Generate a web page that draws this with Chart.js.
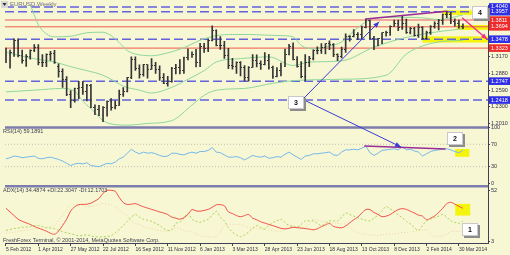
<!DOCTYPE html>
<html><head><meta charset="utf-8">
<script src="https://cdn.jsdelivr.net/npm/chart.js@4/dist/chart.umd.min.js"></script>
<style>html,body{margin:0;padding:0;background:#f7f7d3;overflow:hidden}canvas{display:block}</style>
</head><body>
<canvas id="c" width="510" height="255"></canvas>
<script>
// ---------- DATA ----------
const xTickWeeks = [0,8,16,24,32,40,48,56,64,72,80,88,96,104,112];
const xTickLabels = ['5 Feb 2012','1 Apr 2012','27 May 2012','22 Jul 2012','16 Sep 2012','11 Nov 2012','6 Jan 2013','3 Mar 2013','28 Apr 2013','23 Jun 2013','18 Aug 2013','13 Oct 2013','8 Dec 2013','2 Feb 2014','30 Mar 2014'];

const opens = [1.3140,1.3195,1.3245,1.3450,1.3200,1.3115,1.3175,1.3275,1.3340,1.3075,
1.3080,1.3215,1.3235,1.3000,1.2915,1.2780,1.2515,1.2415,1.2625,1.2640,
1.2570,1.2665,1.2290,1.2245,1.2155,1.2290,1.2385,1.2290,1.2330,1.2510,
1.2575,1.2815,1.3125,1.2975,1.2860,1.3035,1.2955,1.3020,1.2945,1.2815,
1.2710,1.2740,1.2975,1.2985,1.2925,1.3160,1.3220,1.3215,1.3065,1.3345,
1.3315,1.3460,1.3635,1.3365,1.3360,1.3190,1.3020,1.3005,1.3075,1.2985,
1.2815,1.2990,1.3110,1.3050,1.3030,1.3115,1.2985,1.2835,1.2935,1.2995,
1.3220,1.3345,1.3120,1.3010,1.2830,1.3065,1.3140,1.3280,1.3285,1.3340,
1.3395,1.3380,1.3220,1.3180,1.3295,1.3525,1.3525,1.3555,1.3555,1.3685,
1.3800,1.3485,1.3365,1.3495,1.3590,1.3590,1.3705,1.3745,1.3675,1.3745,
1.3590,1.3665,1.3540,1.3675,1.3485,1.3600,1.3705,1.3745,1.3800,1.3910,
1.3915,1.3790,1.3750,1.3705];
const highs = [1.3322,1.3290,1.3486,1.3486,1.3290,1.3210,1.3295,1.3385,1.3385,1.3210,
1.3225,1.3265,1.3285,1.3050,1.2960,1.2825,1.2585,1.2625,1.2745,1.2745,
1.2690,1.2690,1.2335,1.2325,1.2305,1.2405,1.2445,1.2405,1.2590,1.2635,
1.2815,1.3170,1.3172,1.3030,1.3040,1.3035,1.3140,1.3075,1.3015,1.2880,
1.2830,1.2990,1.3040,1.3125,1.3165,1.3310,1.3260,1.3300,1.3405,1.3405,
1.3480,1.3710,1.3640,1.3525,1.3440,1.3320,1.3145,1.3085,1.3090,1.3020,
1.3000,1.3210,1.3205,1.3100,1.3245,1.3215,1.3010,1.2985,1.3060,1.3305,
1.3390,1.3415,1.3175,1.3090,1.3210,1.3180,1.3295,1.3345,1.3400,1.3400,
1.3450,1.3400,1.3225,1.3340,1.3570,1.3540,1.3645,1.3595,1.3705,1.3832,
1.3810,1.3530,1.3495,1.3595,1.3620,1.3710,1.3810,1.3810,1.3893,1.3830,
1.3685,1.3685,1.3740,1.3700,1.3620,1.3715,1.3780,1.3825,1.3915,1.3967,
1.3945,1.3835,1.3810,1.3745];
const lows = [1.3070,1.2973,1.3180,1.3170,1.3060,1.3005,1.3130,1.3260,1.3030,1.3000,
1.3000,1.3110,1.3055,1.2815,1.2640,1.2495,1.2285,1.2380,1.2440,1.2515,
1.2405,1.2285,1.2165,1.2145,1.2042,1.2135,1.2240,1.2265,1.2325,1.2480,
1.2560,1.2790,1.2935,1.2800,1.2835,1.2800,1.2950,1.2880,1.2760,1.2705,
1.2660,1.2730,1.2875,1.2875,1.2880,1.3115,1.3160,1.2995,1.3000,1.3250,
1.3260,1.3450,1.3360,1.3300,1.3145,1.2965,1.2955,1.2880,1.2840,1.2750,
1.2745,1.2985,1.2995,1.2950,1.3030,1.2955,1.2795,1.2820,1.2840,1.3000,
1.3205,1.3115,1.2990,1.2805,1.2755,1.3000,1.3115,1.3220,1.3230,1.3220,
1.3295,1.3175,1.3105,1.3150,1.3250,1.3445,1.3520,1.3470,1.3485,1.3675,
1.3480,1.3295,1.3360,1.3400,1.3530,1.3545,1.3700,1.3625,1.3650,1.3580,
1.3570,1.3530,1.3510,1.3475,1.3475,1.3560,1.3670,1.3640,1.3735,1.3855,
1.3750,1.3705,1.3672,1.3660];
const closes = [1.3195,1.3245,1.3450,1.3200,1.3115,1.3175,1.3275,1.3340,1.3075,1.3080,
1.3215,1.3235,1.3080,1.2915,1.2780,1.2515,1.2415,1.2625,1.2640,1.2570,
1.2665,1.2290,1.2245,1.2155,1.2290,1.2385,1.2290,1.2330,1.2510,1.2575,
1.2815,1.3125,1.2975,1.2860,1.3035,1.2955,1.3020,1.2945,1.2815,1.2710,
1.2740,1.2975,1.2985,1.2925,1.3160,1.3220,1.3215,1.3065,1.3345,1.3315,
1.3460,1.3635,1.3365,1.3360,1.3190,1.3020,1.3005,1.3075,1.2985,1.2815,
1.2990,1.3110,1.3050,1.3030,1.3115,1.2985,1.2835,1.2935,1.2995,1.3220,
1.3345,1.3120,1.3010,1.2830,1.3065,1.3140,1.3280,1.3285,1.3340,1.3395,
1.3380,1.3220,1.3180,1.3295,1.3525,1.3525,1.3555,1.3555,1.3685,1.3800,
1.3485,1.3365,1.3495,1.3590,1.3590,1.3705,1.3745,1.3675,1.3745,1.3590,
1.3665,1.3540,1.3675,1.3485,1.3600,1.3705,1.3745,1.3800,1.3910,1.3915,
1.3790,1.3750,1.3705,1.3690];

const bbUpperWeeks = [0,4,6,8,10,12,16,20,24,26,28,30,32,36,40,44,48,52,56,60,64,68,71,73,76,80,83,86,90,94,98,103,107,113];
const bbUpper = [1.455,1.425,1.407,1.373,1.357,1.352,1.353,1.359,1.360,1.354,1.342,1.328,1.322,1.319,1.324,1.333,1.346,1.354,1.356,1.356,1.355,1.354,1.352,1.337,1.331,1.336,1.343,1.362,1.382,1.386,1.386,1.385,1.382,1.390];
const bbMidWeeks = [0,6,12,16,20,24,27,29,33,36,41,45,49,52,58,65,71,75,83,91,99,107,113];
const bbMid = [1.325,1.315,1.308,1.300,1.293,1.285,1.274,1.266,1.259,1.254,1.264,1.278,1.293,1.308,1.314,1.317,1.302,1.308,1.310,1.334,1.351,1.361,1.366];
const bbLowerWeeks = [0,7,14,17,19,22,24,27,30,35,41,46,49,51,55,59,66,72,83,94,99,103,107,113];
const bbLower = [1.256,1.259,1.262,1.257,1.240,1.220,1.206,1.199,1.198,1.201,1.206,1.233,1.250,1.257,1.261,1.262,1.271,1.276,1.278,1.285,1.322,1.336,1.343,1.346];

const levelValues = [1.4040,1.3957,1.3811,1.3694,1.3478,1.3323,1.2747,1.2418];
const levelKinds  = ['blue','blue','pink','red','blue','red','blue','blue'];
const priceTicks  = [1.4040,1.3957,1.3811,1.3694,1.3478,1.3323,1.3170,1.2880,1.2747,1.2590,1.2418,1.2300,1.2010];

const rsi = [44,46,49,48,46,47,48,49,45,44,
46,47,45,43,40,36,32,35,36,35,
37,32,31,30,33,36,35,38,44,47,
54,61,56,53,56,54,55,53,50,48,
49,54,54,52,51,54,56,54,57,57,
59,64,56,55,51,47,47,48,46,42,
46,50,48,47,49,45,46,48,47,52,
56,51,47,43,49,50,53,53,54,55,
56,51,50,56,60,60,61,60,63,66.5,
55,50,54,59,60,61,62,60,65,60,
61,58,56,49,53,57,59,60,61,62,
60,57,55,59.19];
const rsiLevels = [70,30];
const rsiTicks = [100,70,30,0];

const adx = [34.5,31,27.5,24,22,20.5,19,17,15.5,14,
12.5,10.5,9.5,12.5,18,24,32,36,38,38.3,
38.4,39.5,41.5,44,49,51.8,51.8,51,45,40,
38.2,38.5,39,37.5,36,34.7,33.5,32.3,31,30,
28.5,26,25,24,25.5,28.6,33.3,32,31.7,32.5,
33.5,35.5,37.9,38,37,31,29.5,27.5,26.4,27.5,
28.6,25,23.5,21.5,20.3,19,17.8,16.5,15.2,14.7,
15.3,16.2,15.8,15.4,15,14.5,13.8,14.8,16.9,18.5,
20,17,16.2,15.7,17.5,20.5,23.5,26,30,33.3,
33.3,30.5,28.6,26.4,27,28.4,31,33.3,34.2,33.5,
31.7,30,28,27,23.5,25,27.1,30.5,34.5,39,
40.3,38.5,36.5,34.49];
const plusDI = [13.2,14,15,15.5,16.2,16.5,17,17.8,18,17,
16,15.5,15,13.5,12,11,10,9,8,8.5,
9,8,7,7,7,7.5,8,11,14,18,
22,26,28.6,26,24,23,22,20,18,15,
13.2,14,20,21,25,30,24,22,21,22.5,
24,28,31.7,26,22.4,16,11.7,9,7.1,9,
11.7,15,17.8,16,14.7,18,20.9,22.5,24,21,
17.8,17,16.2,19,22.4,22.4,22.4,20,17.8,20,
22.4,22.4,22.4,26,30,28.6,27,25.5,24,23,
22.4,25,28,32,36.3,34,31.7,28,25.5,22,
19.4,16,13.2,18,22.4,24,25.5,27,28.6,26,
22.4,21,20,22.3];
const minusDI = [10.4,11,11.5,12,13,13.5,14,14.5,15,15.5,
16,17,18,23,28,33,38,38.5,38,37,
36,36.5,37,38,39.4,38.5,38,36,33,30,
27,22,20,19,17,16,15,14,13,12.5,
12,14,16,15,13,12.5,12,10,8,7.5,
7,7,7,12,17.8,18.5,19,19,19,17.5,
16,15.5,14.7,14.5,14,13.5,13,12.5,12,15,
19.3,18,17,16.5,16,20,23.9,23,22,21.5,
20.9,20.5,20,19.6,19.3,16,13,11,10,9.5,
9,8.8,8.6,9,9.5,10,10,10.5,11,11.3,
11.7,12.5,13,13.5,14,10,7,7.5,8,10,
12,12.5,12.2,12.17];
const adxTicks = [52,3];

// drawn objects (anchored in data coordinates)
const trendMain = [[89,1.3832],[109,1.3967]];
const trendRsi  = [[88.6,66.8],[108.7,61.6]];
const zones = [
  {axis:'y',  x0:108,   y0:1.3980, y1:1.3903},
  {axis:'y',  x0:111.5, y0:1.3725, y1:1.3640},
  {axis:'y',  x0:103,   y0:1.3527, y1:1.3420},
  {axis:'yr', x0:111.1, x1:114.6, y0:61.6, y1:47.6},
  {axis:'ya', x0:111.1, x1:114.8, y0:38.8, y1:27.5}
];
const arrows = [
  {a:['y',73.7,1.2453], b:['y',92.3,1.3784], color:'#3a3ad6', w:1},
  {a:['y',73.7,1.2419], b:['yr',97.7,65.1], color:'#3a3ad6', w:1},
  {a:['y',112.8,1.3852], b:['y',119,1.3477], color:'#f0308c', w:1.5}
];
const noteBoxes = [
  {t:'4', axis:'y',  x:117.3, y:1.3938},
  {t:'3', axis:'y',  x:71.6,  y:1.2368},
  {t:'2', axis:'yr', x:111.1, y:79.9},
  {t:'1', axis:'ya', x:114.7, y:13.9}
];

// ---------- STYLE ----------
const BG = '#f7f7d3';
const FONT = "'Liberation Sans', Arial, sans-serif";
const AX = '#40405a';
const BAR = '#363636';
const X_MIN = -0.245, X_MAX = 119.2;
const LEVEL_STYLE = {
  blue:{color:'#6363dc', width:1.5, dash:[9,4], label:'#2f2fe8'},
  red: {color:'#ef5a4a', width:1,   dash:[],    label:'#ee2a2a'},
  pink:{color:'#f3a89c', width:2,   dash:[],    label:'#ee2a2a'}
};

function tickImg(left){
  const c = document.createElement('canvas'); c.width = 3; c.height = 1;
  const g = c.getContext('2d'); g.fillStyle = BAR; g.fillRect(left ? 0 : 2, 0, 1, 1);
  return c;
}
const openImg = tickImg(true), closeImg = tickImg(false);
const pts = (xs, ys) => ys.map((v,i) => ({x: xs ? xs[i] : i, y: v}));
const hline = v => [{x:X_MIN, y:v}, {x:X_MAX, y:v}];

const datasets = [];
levelValues.forEach((v,i) => {
  const s = LEVEL_STYLE[levelKinds[i]];
  datasets.push({type:'line', data:hline(v), yAxisID:'y', borderColor:s.color, borderWidth:s.width, borderDash:s.dash, pointRadius:0, order:60});
});
rsiLevels.forEach(v => datasets.push({type:'line', data:hline(v), yAxisID:'yr', borderColor:'#bdbdb0', borderWidth:1, borderDash:[1,2], pointRadius:0, order:60}));
const bandStyle = {type:'line', yAxisID:'y', borderColor:'#8fd79a', borderWidth:1, pointRadius:0, tension:0.4, cubicInterpolationMode:'monotone', order:50};
datasets.push({...bandStyle, data:pts(bbUpperWeeks, bbUpper)});
datasets.push({...bandStyle, data:pts(bbMidWeeks, bbMid)});
datasets.push({...bandStyle, data:pts(bbLowerWeeks, bbLower)});
datasets.push({type:'bar', data:highs.map((h,i)=>({x:i, y:[lows[i], h]})), yAxisID:'y', backgroundColor:BAR, barThickness:1, order:40});
datasets.push({type:'line', showLine:false, data:pts(null, opens), yAxisID:'y', pointStyle:openImg, pointRadius:2, order:39});
datasets.push({type:'line', showLine:false, data:pts(null, closes), yAxisID:'y', pointStyle:closeImg, pointRadius:2, order:39});
datasets.push({type:'line', data:pts(null, rsi), yAxisID:'yr', borderColor:'#74b8ea', borderWidth:1, pointRadius:0, order:30});
datasets.push({type:'line', data:pts(null, minusDI), yAxisID:'ya', borderColor:'#efd4a6', borderWidth:1, borderDash:[1,2], pointRadius:0, tension:0.3, order:32});
datasets.push({type:'line', data:pts(null, plusDI), yAxisID:'ya', borderColor:'#a9d25a', borderWidth:1, borderDash:[2,2], pointRadius:0, tension:0.3, order:31});
datasets.push({type:'line', data:pts(null, adx), yAxisID:'ya', borderColor:'#f2504a', borderWidth:1, pointRadius:0, tension:0.3, order:30});
datasets.push({type:'line', data:trendMain.map(p=>({x:p[0],y:p[1]})), yAxisID:'y', borderColor:'#9a2c96', borderWidth:1.5, pointRadius:0, order:10});
datasets.push({type:'line', data:trendRsi.map(p=>({x:p[0],y:p[1]})), yAxisID:'yr', borderColor:'#9a2c96', borderWidth:1.5, pointRadius:0, order:10});

function levelColor(v){ const i = levelValues.findIndex(l => Math.abs(l - v) < 1e-6); return i < 0 ? null : LEVEL_STYLE[levelKinds[i]].label; }
const tickFont = {size:5.5, family:FONT};
const xFont = {size:5, family:FONT};
function yAxis(extra){
  return Object.assign({type:'linear', position:'right', stack:'panes', offset:false,
    afterFit: s => { s.width = 22; },
    grid:{drawOnChartArea:false, tickLength:2, color:AX},
    border:{color:AX}}, extra);
}

function arrowHead(ctx, x1, y1, x2, y2, color){
  const a = Math.atan2(y2-y1, x2-x1), L = 6, W = 2.5;
  ctx.fillStyle = color; ctx.beginPath();
  ctx.moveTo(x2, y2);
  ctx.lineTo(x2 - L*Math.cos(a) + W*Math.sin(a), y2 - L*Math.sin(a) - W*Math.cos(a));
  ctx.lineTo(x2 - L*Math.cos(a) - W*Math.sin(a), y2 - L*Math.sin(a) + W*Math.cos(a));
  ctx.closePath(); ctx.fill();
}

const paint = {
  id:'paint',
  beforeDraw(chart){ const c = chart.ctx; c.save(); c.fillStyle = BG; c.fillRect(0,0,chart.width,chart.height); c.restore(); },
  beforeDatasetsDraw(chart){
    const {ctx, scales} = chart; const x = scales.x;
    ctx.save(); ctx.fillStyle = '#f4f40c';
    zones.forEach(z => {
      const ys = scales[z.axis];
      const xa = x.getPixelForValue(z.x0), xb = x.getPixelForValue(z.x1 !== undefined ? z.x1 : X_MAX);
      const ya = ys.getPixelForValue(z.y0), yb = ys.getPixelForValue(z.y1);
      ctx.fillRect(xa, ya, xb - xa, yb - ya);
    });
    ctx.restore();
  },
  afterDatasetsDraw(chart){
    const {ctx, scales, chartArea} = chart; const x = scales.x;
    ctx.save();
    ctx.strokeStyle = '#7c7cae'; ctx.lineWidth = 2.5;
    [scales.yr.top, scales.ya.top].forEach(y => { ctx.beginPath(); ctx.moveTo(chartArea.left, y); ctx.lineTo(chartArea.right, y); ctx.stroke(); });
    arrows.forEach(ar => {
      const x1 = x.getPixelForValue(ar.a[1]), y1 = scales[ar.a[0]].getPixelForValue(ar.a[2]);
      const x2 = x.getPixelForValue(ar.b[1]), y2 = scales[ar.b[0]].getPixelForValue(ar.b[2]);
      ctx.strokeStyle = ar.color; ctx.lineWidth = ar.w;
      ctx.beginPath(); ctx.moveTo(x1, y1); ctx.lineTo(x2, y2); ctx.stroke();
      arrowHead(ctx, x1, y1, x2, y2, ar.color);
    });
    noteBoxes.forEach(b => {
      const cx = x.getPixelForValue(b.x), cy = scales[b.axis].getPixelForValue(b.y);
      const w = 16, h = 13, l = Math.round(cx - w/2), t = Math.round(cy - h/2);
      ctx.fillStyle = '#8c8c8c'; ctx.fillRect(l + 2, t + 2, w, h);
      ctx.fillStyle = '#ffffff'; ctx.fillRect(l, t, w, h);
      ctx.strokeStyle = '#c8c8c8'; ctx.lineWidth = 1; ctx.strokeRect(l + 0.5, t + 0.5, w - 1, h - 1);
      ctx.fillStyle = '#111'; ctx.font = 'bold 7px ' + FONT; ctx.textAlign = 'center'; ctx.textBaseline = 'middle';
      ctx.fillText(b.t, l + w/2, t + h/2 + 0.5);
    });
    ctx.restore();
  },
  afterDraw(chart){
    const {ctx, scales} = chart;
    ctx.save();
    ctx.textAlign = 'left'; ctx.textBaseline = 'middle';
    ctx.fillStyle = '#d8d8d8'; ctx.fillRect(1, 1, 7, 7);
    ctx.fillStyle = '#333'; ctx.beginPath(); ctx.moveTo(2.5, 3); ctx.lineTo(6.5, 3); ctx.lineTo(4.5, 6); ctx.closePath(); ctx.fill();
    ctx.font = '6px ' + FONT; ctx.fillStyle = '#707080';
    ctx.fillText('EURUSD,Weekly', 10, 4.5);
    ctx.fillStyle = '#404050'; ctx.font = '5.5px ' + FONT;
    ctx.fillText('RSI(14) 59.1891', 3, scales.yr.top + 4);
    ctx.fillText('ADX(14) 34.4874 +DI:22.3047 -DI:12.1703', 3, scales.ya.top + 4);
    ctx.fillText('FreshForex Terminal, \u00a9 2001-2014, MetaQuotes Software Corp.', 3, scales.ya.bottom - 3);
    ctx.restore();
  }
};

new Chart(document.getElementById('c'), {
  type:'line',
  data:{datasets},
  options:{
    responsive:false, animation:false, devicePixelRatio:1,
    layout:{padding:0},
    plugins:{legend:{display:false}, tooltip:{enabled:false}},
    events:[],
    scales:{
      x:{type:'linear', position:'bottom', min:X_MIN, max:X_MAX, offset:false,
        afterFit: s => { s.height = 12; },
        afterBuildTicks: s => { s.ticks = xTickWeeks.map(v => ({value:v})); },
        ticks:{autoSkip:false, maxRotation:0, minRotation:0, align:'start', padding:1, font:xFont, color:'#30304a',
          callback: v => xTickLabels[xTickWeeks.indexOf(v)]},
        grid:{drawOnChartArea:false, tickLength:3, color:AX, offset:false},
        border:{color:AX}},
      y: yAxis({stackWeight:125, min:1.1941, max:1.4074,
        afterBuildTicks: s => { s.ticks = priceTicks.map(v => ({value:v})); },
        ticks:{autoSkip:false, padding:1, font:tickFont,
          color: c => levelColor(c.tick.value) ? '#ffffff' : '#30304a',
          showLabelBackdrop: c => !!levelColor(c.tick.value),
          backdropColor: c => levelColor(c.tick.value) || 'rgba(0,0,0,0)',
          backdropPadding:{top:0.5, bottom:0.5, left:2, right:4},
          callback: v => v.toFixed(4)}}),
      yr: yAxis({stackWeight:60, min:-4.8, max:100,
        afterBuildTicks: s => { s.ticks = rsiTicks.map(v => ({value:v})); },
        ticks:{autoSkip:false, padding:1, font:tickFont, color:'#30304a', callback: v => String(v)}}),
      ya: yAxis({stackWeight:58, min:1.1, max:55.8,
        afterBuildTicks: s => { s.ticks = adxTicks.map(v => ({value:v})); },
        ticks:{autoSkip:false, padding:1, font:tickFont, color:'#30304a', callback: v => String(v)}})
    }
  },
  plugins:[paint]
});
</script>
</body></html>
